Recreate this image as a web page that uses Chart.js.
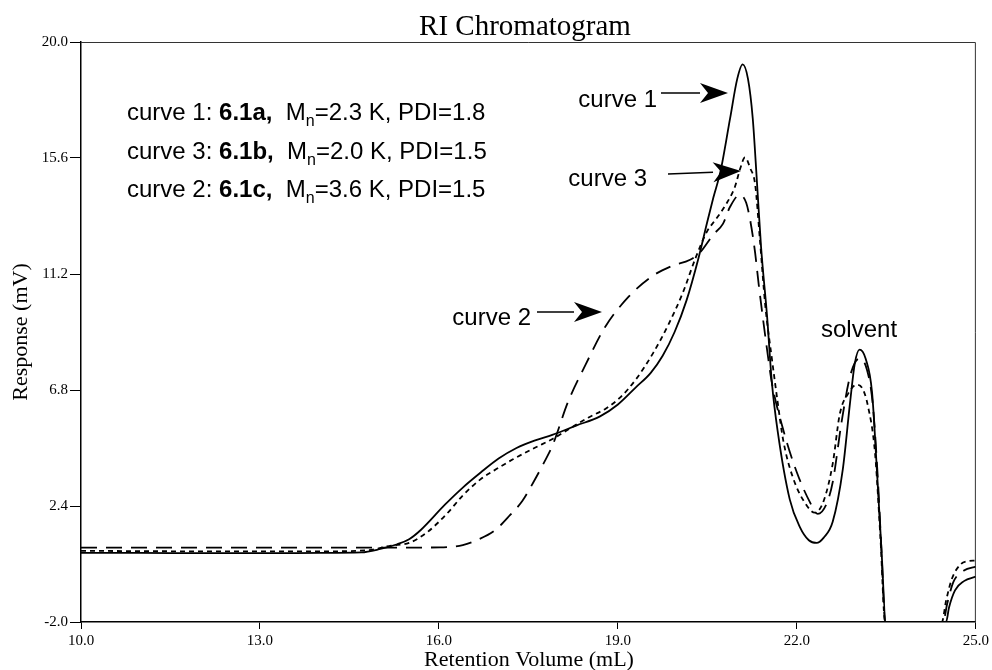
<!DOCTYPE html>
<html>
<head>
<meta charset="utf-8">
<script src="https://cdn.jsdelivr.net/npm/chart.js@4.4.1/dist/chart.umd.min.js"></script>
<style>
  html, body { margin: 0; padding: 0; background: #fff; }
  #wrap { width: 992px; height: 670px; position: relative; }
</style>
</head>
<body>
<div id="wrap"><canvas id="riChart"></canvas></div>
<script>
// axis ticks
const xTicks = [10.0, 13.0, 16.0, 19.0, 22.0, 25.0];
const yTicks = [-2.0, 2.4, 6.8, 11.2, 15.6, 20.0];

// curve 1 (6.1a) - solid
const curve1X = [10.0, 11.0, 12.0, 13.0, 14.0, 14.7, 15.0, 15.3, 15.5, 15.7, 16.1, 16.4, 16.7, 17.0, 17.3, 17.6, 17.9, 18.3, 18.7, 19.0, 19.3, 19.55, 19.75, 19.95, 20.15, 20.35, 20.5, 20.6, 20.72, 20.88, 21.0, 21.09, 21.18, 21.26, 21.33, 21.4, 21.5, 21.58, 21.68, 21.88, 22.05, 22.2, 22.33, 22.45, 22.6, 22.77, 22.89, 22.97, 23.05, 23.15, 23.26, 23.34, 23.42, 23.49, 24.0, 24.5, 24.55, 24.65, 24.8, 25.0];
const curve1Y = [0.62, 0.62, 0.61, 0.61, 0.62, 0.64, 0.76, 0.95, 1.14, 1.5, 2.45, 3.1, 3.67, 4.2, 4.6, 4.88, 5.1, 5.45, 5.8, 6.25, 6.9, 7.45, 8.1, 9.0, 10.2, 11.8, 13.2, 14.1, 15.1, 17.1, 18.6, 19.15, 18.6, 17.1, 14.7, 12.2, 9.6, 7.1, 5.2, 2.65, 1.6, 1.1, 1.0, 1.2, 1.8, 3.8, 6.3, 7.8, 8.33, 8.0, 6.7, 3.8, 0.64, -2.0, -2.0, -2.0, -1.45, -0.8, -0.45, -0.28];

// curve 3 (6.1b) - short dashes
const curve3X = [10.0, 12.0, 14.0, 14.8, 15.2, 15.5, 15.8, 16.13, 16.4, 16.69, 17.0, 17.24, 17.6, 17.91, 18.2, 18.5, 18.8, 19.03, 19.3, 19.59, 19.85, 20.09, 20.3, 20.49, 20.65, 20.8, 20.96, 21.05, 21.13, 21.22, 21.3, 21.38, 21.47, 21.58, 21.68, 21.77, 21.93, 22.17, 22.3, 22.45, 22.6, 22.72, 22.87, 23.0, 23.1, 23.19, 23.31, 23.4, 23.48, 24.0, 24.43, 24.5, 24.6, 24.75, 24.85, 25.0];
const curve3Y = [0.7, 0.68, 0.68, 0.72, 0.9, 1.0, 1.4, 2.1, 2.8, 3.4, 3.85, 4.17, 4.6, 4.95, 5.35, 5.75, 6.1, 6.5, 7.2, 8.2, 9.3, 10.5, 11.8, 12.8, 13.3, 13.8, 14.5, 15.2, 15.62, 15.2, 14.6, 12.5, 10.0, 8.0, 6.3, 4.9, 3.5, 2.4, 2.15, 2.6, 4.0, 5.9, 6.7, 7.0, 6.85, 6.2, 4.4, 1.2, -2.0, -2.0, -2.0, -1.2, -0.35, 0.2, 0.3, 0.33];

// curve 2 (6.1c) - long dashes
const curve2X = [10.0, 12.0, 14.0, 15.0, 16.02, 16.4, 16.67, 16.95, 17.19, 17.4, 17.59, 17.75, 17.91, 18.16, 18.46, 18.78, 19.18, 19.59, 19.9, 20.21, 20.37, 20.6, 20.76, 20.88, 21.04, 21.15, 21.22, 21.3, 21.36, 21.5, 21.58, 21.77, 22.0, 22.22, 22.35, 22.5, 22.6, 22.75, 22.9, 23.05, 23.17, 23.27, 23.35, 23.42, 23.48, 24.0, 24.45, 24.52, 24.62, 24.8, 25.0];
const curve2Y = [0.82, 0.82, 0.82, 0.82, 0.83, 0.92, 1.14, 1.5, 2.05, 2.6, 3.33, 4.0, 4.73, 6.33, 7.77, 9.17, 10.34, 11.14, 11.5, 11.74, 12.0, 12.7, 13.1, 13.75, 14.2, 13.9, 13.2, 12.0, 10.8, 8.33, 7.08, 5.3, 3.67, 2.54, 2.1, 2.5, 3.3, 5.6, 7.4, 8.0, 7.6, 6.3, 3.7, 0.6, -2.0, -2.0, -2.0, -1.3, -0.5, -0.05, 0.1];

// legend block text
const legendCurves = ["curve 1", "curve 3", "curve 2"];
const legendSamples = ["6.1a,", "6.1b,", "6.1c,"];
const legendMn = ["2.3", "2.0", "3.6"];
const legendPdi = ["1.8", "1.5", "1.5"];

const SANS = "'Liberation Sans', Arial, sans-serif";
const SERIF = "'Liberation Serif', 'Times New Roman', serif";

function toPoints(xs, ys) {
  return xs.map((x, i) => ({ x: x, y: ys[i] }));
}

function drawArrow(ctx, x1, y1, x2, y2) {
  const ang = Math.atan2(y2 - y1, x2 - x1);
  const len = 28, half = 10, notch = 8;
  ctx.save();
  ctx.strokeStyle = "#000";
  ctx.fillStyle = "#000";
  ctx.lineWidth = 1.5;
  ctx.beginPath();
  ctx.moveTo(x1, y1);
  ctx.lineTo(x2 - Math.cos(ang) * len, y2 - Math.sin(ang) * len);
  ctx.stroke();
  ctx.translate(x2, y2);
  ctx.rotate(ang);
  ctx.beginPath();
  ctx.moveTo(0, 0);
  ctx.lineTo(-len, -half);
  ctx.lineTo(-len + notch, 0);
  ctx.lineTo(-len, half);
  ctx.closePath();
  ctx.fill();
  ctx.restore();
}

// draws title, axis titles, legend text block and arrow labels
const decorations = {
  id: "decorations",
  afterDraw(chart) {
    const ctx = chart.ctx;
    const area = chart.chartArea;
    ctx.save();

    // top and right frame
    ctx.strokeStyle = "#333";
    ctx.lineWidth = 1;
    ctx.beginPath();
    ctx.moveTo(area.left, area.top + 0.5);
    ctx.lineTo(area.right - 0.5, area.top + 0.5);
    ctx.lineTo(area.right - 0.5, area.bottom);
    ctx.stroke();

    ctx.fillStyle = "#000";
    ctx.textBaseline = "alphabetic";

    // title
    ctx.font = "29px " + SERIF;
    ctx.textAlign = "center";
    ctx.fillText("RI Chromatogram", 525, 35);

    // axis titles
    ctx.font = "22px " + SERIF;
    ctx.fillText("Retention Volume (mL)", 529, 666);
    ctx.save();
    ctx.translate(27, (area.top + area.bottom) / 2);
    ctx.rotate(-Math.PI / 2);
    ctx.fillText("Response (mV)", 0, 0);
    ctx.restore();

    // legend block
    ctx.textAlign = "left";
    const baselines = [120, 159, 197];
    legendCurves.forEach((name, i) => {
      let x = 127;
      const y = baselines[i];
      const parts = [
        { t: name + ": ", f: "24px " + SANS, dy: 0 },
        { t: legendSamples[i], f: "bold 24px " + SANS, dy: 0 },
        { t: "  M", f: "24px " + SANS, dy: 0 },
        { t: "n", f: "16px " + SANS, dy: 6 },
        { t: "=" + legendMn[i] + " K, PDI=" + legendPdi[i], f: "24px " + SANS, dy: 0 }
      ];
      parts.forEach(p => {
        ctx.font = p.f;
        ctx.fillText(p.t, x, y + p.dy);
        x += ctx.measureText(p.t).width;
      });
    });

    // curve labels with arrows
    ctx.font = "24px " + SANS;
    ctx.textAlign = "right";
    ctx.fillText("curve 1", 657, 107);
    drawArrow(ctx, 661, 93, 728, 93);
    ctx.fillText("curve 3", 647, 186);
    drawArrow(ctx, 668, 174, 741, 171);
    ctx.fillText("curve 2", 531, 325);
    drawArrow(ctx, 537, 312, 602, 312);

    ctx.textAlign = "left";
    ctx.fillText("solvent", 821, 337);

    ctx.restore();
  }
};

const lineStyle = {
  borderColor: "#000",
  backgroundColor: "transparent",
  borderWidth: 1.8,
  pointRadius: 0,
  cubicInterpolationMode: "monotone",
  fill: false
};

const tickFont = { family: SERIF, size: 15 };

new Chart(document.getElementById("riChart"), {
  type: "line",
  data: {
    datasets: [
      Object.assign({ label: "curve 1", data: toPoints(curve1X, curve1Y) }, lineStyle),
      Object.assign({ label: "curve 3", data: toPoints(curve3X, curve3Y), borderDash: [5, 4] }, lineStyle),
      Object.assign({ label: "curve 2", data: toPoints(curve2X, curve2Y), borderDash: [16, 9] }, lineStyle)
    ]
  },
  options: {
    responsive: true,
    maintainAspectRatio: false,
    animation: false,
    layout: {
      padding: { top: 42, right: 16, left: 0, bottom: 0 }
    },
    scales: {
      x: {
        type: "linear",
        min: 10,
        max: 25,
        afterBuildTicks: scale => {
          scale.ticks = xTicks.map(v => ({ value: v }));
        },
        afterFit: scale => {
          scale.height = 48;
        },
        ticks: {
          autoSkip: false,
          maxRotation: 0,
          padding: 3,
          color: "#000",
          font: tickFont,
          callback: value => value.toFixed(1)
        },
        grid: {
          drawOnChartArea: false,
          tickLength: 7,
          color: "#000",
          lineWidth: 1
        },
        border: {
          display: true,
          color: "#000",
          width: 1.5
        }
      },
      y: {
        type: "linear",
        min: -2,
        max: 20,
        afterBuildTicks: scale => {
          scale.ticks = yTicks.map(v => ({ value: v }));
        },
        afterFit: scale => {
          scale.width = 81;
        },
        ticks: {
          autoSkip: false,
          padding: 2,
          color: "#000",
          font: tickFont,
          callback: value => value.toFixed(1)
        },
        grid: {
          drawOnChartArea: false,
          tickLength: 11,
          color: "#000",
          lineWidth: 1
        },
        border: {
          display: true,
          color: "#000",
          width: 1.5
        }
      }
    },
    plugins: {
      legend: { display: false },
      title: { display: false },
      tooltip: { enabled: false }
    }
  },
  plugins: [decorations]
});
</script>
</body>
</html>
